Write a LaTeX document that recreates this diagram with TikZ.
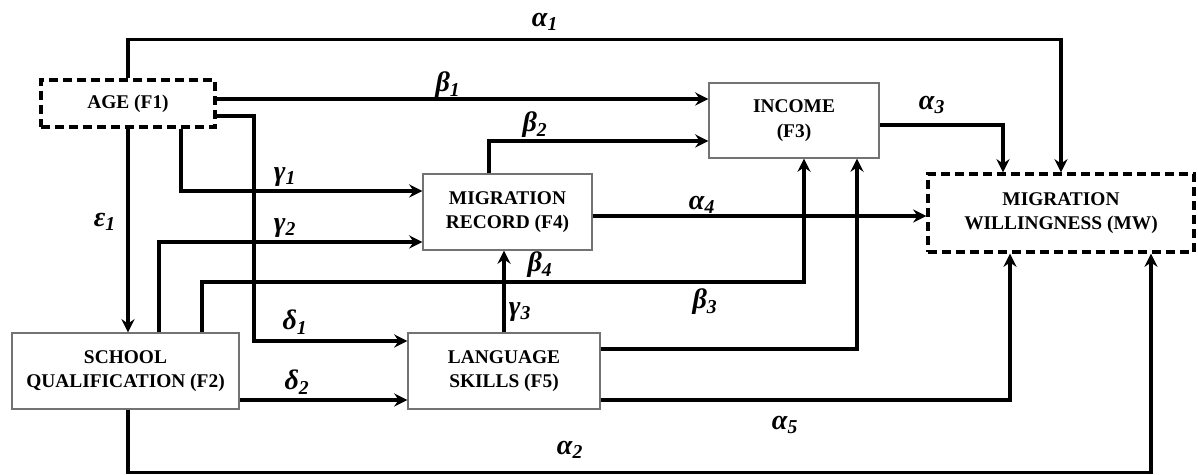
\documentclass[tikz,border=0pt]{standalone}
\usepackage{fontspec}
\setmainfont{Liberation Serif}
\usetikzlibrary{arrows.meta, positioning, calc}

\begin{document}
\begin{tikzpicture}[
    box/.style={draw=black!55, line width=0.9pt, fill=white, align=center, inner sep=0pt,
        font=\fontsize{13.8}{17.5}\selectfont\bfseries},
    dbox/.style={box, draw=black, line width=2.4pt, dash pattern=on 0.22cm off 0.13cm},
    link/.style={line width=2.4pt, -{Stealth[length=3.3mm, width=3.3mm, inset=1.1mm]}},
    coef/.style={font=\fontsize{20}{22}\selectfont\bfseries\itshape, inner sep=0pt}
]
    \useasboundingbox (0,0) rectangle (29.95,11.875);

    % Factors
    \node[dbox, minimum width=4.35cm, minimum height=1.175cm] (age) at (3.2, 9.2875) {AGE (F1)};
    \node[box, minimum width=5.675cm, minimum height=1.9cm] (school) at (3.1375, 2.6) {SCHOOL\\QUALIFICATION (F2)};
    \node[box, minimum width=4.25cm, minimum height=1.875cm] (income) at (19.85, 8.8625) {INCOME\\(F3)};
    \node[box, minimum width=4.225cm, minimum height=1.9cm] (record) at (12.6875, 6.575) {MIGRATION\\RECORD (F4)};
    \node[box, minimum width=4.8cm, minimum height=1.9cm] (lang) at (12.6, 2.6) {LANGUAGE\\SKILLS (F5)};
    \node[dbox, minimum width=6.65cm, minimum height=1.95cm] (mw) at (26.525, 6.55) {MIGRATION\\WILLINGNESS (MW)};

    % Paths from age
    \draw[link] (age.north) -- ++(0,0.975) -| (mw.north);
    \draw[link] (age.east |- 0,9.4) -- (income.west |- 0,9.4);
    \draw[link] (age.east |- 0,8.975) -| (6.35,3.35) -- (lang.west |- 0,3.35);
    \draw[link] (age.south -| 4.525,0) |- (record.west |- 0,7.1);
    \draw[link] (age.south) -- (age.south |- school.north);

    % Paths from school qualification
    \draw[link] (school.north -| 3.975,0) |- (record.west |- 0,5.825);
    \draw[link] (school.north -| 5.05,0) |- (20.1,4.825) -- (income.south -| 20.1,0);
    \draw[link] (school.east |- 0,1.875) -- (lang.west |- 0,1.875);
    \draw[link] (age.south |- school.south) |- (28.775,0.06) -- (mw.south -| 28.775,0);

    % Paths from migration record and language skills
    \draw[link] (record.north -| 12.225,0) |- (income.west |- 0,8.35);
    \draw[link] (record.east |- 0,6.475) -- (mw.west |- 0,6.475);
    \draw[link] (lang.north) -- (lang.north |- record.south);
    \draw[link] (lang.east |- 0,3.15) -| (income.south -| 21.425,0);
    \draw[link] (lang.east |- 0,1.875) -| (mw.south -| 25.25,0);

    % Income to willingness
    \draw[link] (income.east |- 0,8.75) -| (mw.north -| 25.075,0);

    % Coefficients
    \node[coef] (a1) at (13.625, 11.325) {α\textsubscript{1}};
    \node[coef] (a2) at (14.25, 0.625) {α\textsubscript{2}};
    \node[coef] (a3) at (23.3, 9.25) {α\textsubscript{3}};
    \node[coef] (a4) at (17.55, 6.75) {α\textsubscript{4}};
    \node[coef] (a5) at (19.625, 1.25) {α\textsubscript{5}};
    \node[coef] (b1) at (11.2, 9.75) {β\textsubscript{1}};
    \node[coef] (b2) at (13.375, 8.75) {β\textsubscript{2}};
    \node[coef] (b3) at (17.625, 4.325) {β\textsubscript{3}};
    \node[coef] (b4) at (13.5, 5.25) {β\textsubscript{4}};
    \node[coef] (g1) at (7.125, 7.45) {γ\textsubscript{1}};
    \node[coef] (g2) at (7.125, 6.175) {γ\textsubscript{2}};
    \node[coef] (g3) at (13.0, 4.075) {γ\textsubscript{3}};
    \node[coef] (d1) at (7.375, 3.825) {δ\textsubscript{1}};
    \node[coef] (d2) at (7.425, 2.325) {δ\textsubscript{2}};
    \node[coef] (e1) at (2.625, 6.325) {ε\textsubscript{1}};
\end{tikzpicture}
\end{document}
